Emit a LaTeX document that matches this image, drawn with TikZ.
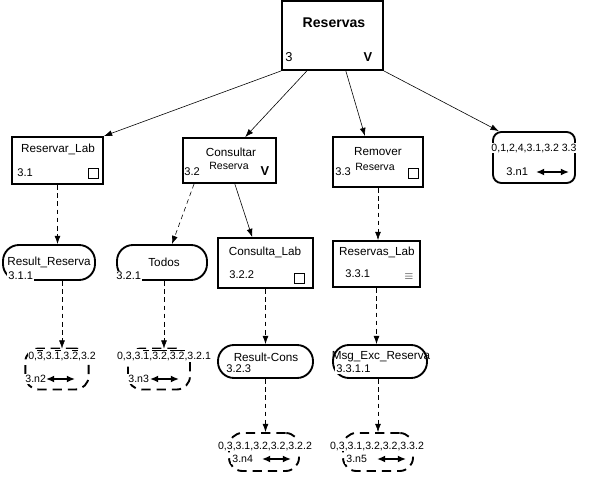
\documentclass[tikz,border=0pt]{standalone}
\usepackage{fontspec}
\setmainfont{Liberation Sans}
\usetikzlibrary{arrows.meta}
\newcommand{\ovl}[1]{$\overline{\hbox{#1}}$}

\begin{document}
\begin{tikzpicture}[x=0.03cm, y=-0.03cm,
  box/.style={draw, line width=1.6pt, inner sep=0pt},
  pill/.style={draw, line width=1.6pt, inner sep=0pt, rounded corners=0.48cm},
  nbox/.style={draw, line width=1.6pt, dash pattern=on 8pt off 5pt, inner sep=0pt, rounded corners=0.4cm},
  txt/.style={inner sep=1pt, font=\fontsize{10}{12}\selectfont},
  num/.style={txt, anchor=west, font=\fontsize{9.5}{11}\selectfont},
  cut/.style={num, fill=white},
  nlist/.style={inner sep=0.5pt, fill=white, font=\fontsize{9}{10}\selectfont},
  sqbox/.style={draw, line width=0.8pt, minimum size=0.3cm, inner sep=0pt},
  bold/.style={txt, font=\fontsize{11}{13}\selectfont\bfseries},
  con/.style={-{Latex[length=7pt,width=5pt]}, line width=0.5pt},
  dcon/.style={con, dash pattern=on 4pt off 3pt},
  twoway/.style={{Latex[length=7pt,width=6pt]}-{Latex[length=7pt,width=6pt]}, line width=1.5pt}]
  \useasboundingbox (0,0) rectangle (607,499);

  \node[box, minimum width=3.03cm, minimum height=2.07cm] (res) at (332.5,35.5) {};
  \node[bold, font=\fontsize{12}{14}\selectfont\bfseries] (res-t) at (334,23) {Reservas};
  \node[num, font=\fontsize{11}{13}\selectfont] (res-n) at (284,57) {3};
  \node[bold] (res-v) at (368,57) {V};

  \node[box, minimum width=2.73cm, minimum height=1.41cm] (rl) at (57.5,160.5) {};
  \node[txt] (rl-t) at (58,149) {Reservar\_Lab};
  \node[num] (rl-n) at (16,173) {3.1};
  \node[sqbox] (rl-s) at (93,173) {};

  \node[box, minimum width=2.79cm, minimum height=1.35cm] (cr) at (229.5,160.5) {};
  \node[txt] (cr-t) at (231,152) {Consultar};
  \node[txt, font=\fontsize{9}{10}\selectfont] (cr-r) at (229,166) {Reserva};
  \node[num] (cr-n) at (183,172) {3.2};
  \node[bold] (cr-v) at (265,171) {V};

  \node[box, minimum width=2.7cm, minimum height=1.5cm] (rm) at (378,162) {};
  \node[txt] (rm-t) at (378,152) {Remover};
  \node[txt, font=\fontsize{9}{10}\selectfont] (rm-r) at (375,167) {Reserva};
  \node[num] (rm-n) at (334,172) {3.3};
  \node[sqbox] (rm-s) at (413,173) {};

  \node[box, rounded corners=0.25cm, minimum width=2.46cm, minimum height=1.53cm] (n1) at (534,157.5) {};
  \node[nlist] (n1-l) at (534,148) {0,1,2,4,3.1,3.2 3.3};
  \node[num] (n1-n) at (505,172) {3.n1};
  \draw[twoway] (536,172) -- (569,172);

  \node[pill, minimum width=2.76cm, minimum height=1.05cm] (rr) at (49,262.5) {};
  \node[txt] (rr-t) at (49,262) {Result\_Reserva};
  \node[cut] (rr-n) at (7,276) {3.1.1};

  \node[pill, minimum width=2.7cm, minimum height=1.05cm] (td) at (162,262.5) {};
  \node[txt] (td-t) at (164,262) {Todos};
  \node[cut] (td-n) at (115,276) {3.2.1};

  \node[box, minimum width=2.85cm, minimum height=1.5cm] (cl) at (265.5,263) {};
  \node[txt] (cl-t) at (265,252) {Consulta\_Lab};
  \node[num] (cl-n) at (228,275) {3.2.2};
  \node[sqbox] (cl-s) at (299,278) {};

  \node[box, minimum width=2.61cm, minimum height=1.38cm] (rb) at (376.5,264) {};
  \node[txt] (rb-t) at (377,252) {Reservas\_Lab};
  \node[num] (rb-n) at (344,274) {3.3.1};
  \node[txt] (rb-e) at (409,277) {$\equiv$};

  \node[pill, minimum width=2.85cm, minimum height=0.99cm] (rc) at (265.5,361.5) {};
  \node[txt] (rc-t) at (266,357) {Result-Cons};
  \node[cut] (rc-n) at (225,369) {3.2.3};

  \node[pill, minimum width=2.82cm, minimum height=0.99cm] (me) at (380,361.5) {};
  \node[txt] (me-t) at (381,357) {Msg\_Exc\_Reserva};
  \node[cut] (me-n) at (335,369) {3.3.1.1};

  \node[nbox, minimum width=1.9cm, minimum height=1.23cm] (n2) at (57,369) {};
  \node[nlist] (n2-l) at (62,355) {0,\ovl{3},3.\ovl{1},3.\ovl{2},3.2};
  \node[cut, font=\fontsize{9}{10}\selectfont] (n2-n) at (24,379) {3.n2};
  \draw[twoway] (46,379) -- (75,379);

  \node[nbox, minimum width=1.86cm, minimum height=1.23cm] (n3) at (159,369) {};
  \node[nlist] (n3-l) at (164,355) {0,3,3.\ovl{1},\ovl{3.2},\ovl{3.2},3.2.1};
  \node[cut, font=\fontsize{9}{10}\selectfont] (n3-n) at (127,379) {3.n3};
  \draw[twoway] (150,379) -- (179,379);

  \node[nbox, minimum width=2.1cm, minimum height=1.14cm] (n4) at (264,452) {};
  \node[nlist] (n4-l) at (265,446) {0,3,3.1,3.2,3.2,3.2.2};
  \node[cut, font=\fontsize{9}{10}\selectfont] (n4-n) at (231,459) {3.n4};
  \draw[twoway] (262,459) -- (291,459);

  \node[nbox, minimum width=2.1cm, minimum height=1.14cm] (n5) at (378,452) {};
  \node[nlist] (n5-l) at (377,446) {0,3,3.1,3.2,3.2,3.3.2};
  \node[cut, font=\fontsize{9}{10}\selectfont] (n5-n) at (345,459) {3.n5};
  \draw[twoway] (377,459) -- (406,459);

  \draw[con] (res.south west) -- (rl.north east);
  \draw[con] ([xshift=-0.77cm]res.south) -- ([xshift=0.47cm]cr.north);
  \draw[con] ([xshift=0.4cm]res.south) -- ([xshift=-0.39cm]rm.north);
  \draw[con] (res.south east) -- ([xshift=0.2cm]n1.north west);
  \draw[dcon] (rl.south) -- (rl.south |- rr.north);
  \draw[dcon] ([xshift=0.36cm]cr.south west) -- ([xshift=0.3cm]td.north);
  \draw[con] ([xshift=0.16cm]cr.south) -- ([xshift=-0.4cm]cl.north);
  \draw[dcon] (rm.south) -- (rm.south |- rb.north);
  \draw[dcon] (n2-l.north |- rr.south) -- (n2-l.north);
  \draw[dcon] (n3-l.north |- td.south) -- (n3-l.north);
  \draw[dcon] (cl.south) -- (rc.north);
  \draw[dcon] (rb.south) -- (rb.south |- me.north);
  \draw[dcon] (rc.south) -- (rc.south |- n4.north);
  \draw[dcon] (n5.north |- me.south) -- (n5.north);
\end{tikzpicture}
\end{document}
